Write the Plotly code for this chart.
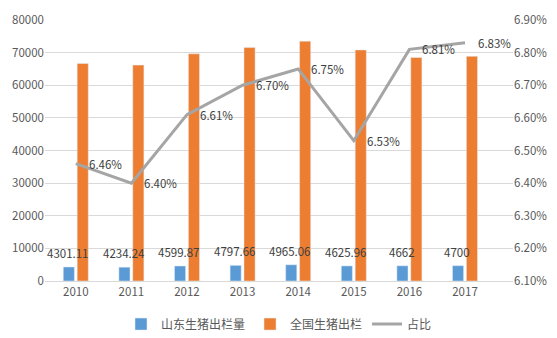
import plotly.graph_objects as go

years = ["2010", "2011", "2012", "2013", "2014", "2015", "2016", "2017"]
shandong = [4301.11, 4234.24, 4599.87, 4797.66, 4965.06, 4625.96, 4662, 4700]
national = [66686, 66170, 69628, 71557, 73510, 70825, 68502, 68861]
ratio = [6.46, 6.40, 6.61, 6.70, 6.75, 6.53, 6.81, 6.83]
shandong_labels = ["4301.11", "4234.24", "4599.87", "4797.66", "4965.06", "4625.96", "4662", "4700"]
ratio_labels = [f"{v:.2f}%" for v in ratio]

FONT = "Noto Sans CJK SC, Microsoft YaHei, sans-serif"
TXT = "#404040"

fig = go.Figure()
fig.add_trace(go.Bar(
    x=years, y=shandong, name="山东生猪出栏量",
    marker_color="#5b9bd5",
))
fig.add_trace(go.Bar(
    x=years, y=national, name="全国生猪出栏",
    marker_color="#ed7d31",
))
fig.add_trace(go.Scatter(
    x=years, y=ratio, name="占比", yaxis="y2",
    mode="lines",
    line=dict(color="#a5a5a5", width=3),
    cliponaxis=False,
))

# bar labels for 山东 series (drawn on top of the orange bars, as in the reference)
for i, (v, lab) in enumerate(zip(shandong, shandong_labels)):
    fig.add_annotation(x=i - 0.14, y=v, xref="x", yref="y", text=lab, showarrow=False,
                       xanchor="center", yanchor="bottom", yshift=4,
                       font=dict(size=11.5, color=TXT, family=FONT))

for i, (v, lab) in enumerate(zip(ratio, ratio_labels)):
    fig.add_annotation(x=i, y=v, xref="x", yref="y2", text=lab, showarrow=False,
                       xanchor="left", yanchor="middle", xshift=11,
                       font=dict(size=11.5, color=TXT, family=FONT))

fig.update_layout(
    width=557, height=338,
    margin=dict(l=45, r=44, t=20, b=57, autoexpand=False),
    paper_bgcolor="white", plot_bgcolor="white",
    font=dict(family=FONT, size=11, color="#595959"),
    barmode="group", bargap=0.5, bargroupgap=0.2,
    showlegend=True,
    legend=dict(orientation="h", x=0.5, xanchor="center", y=-0.165, yanchor="middle",
                font=dict(size=12, color="#595959"), itemwidth=30, tracegroupgap=0),
    xaxis=dict(type="category", showgrid=False, showline=True, linecolor="#d9d9d9", linewidth=1,
               ticks="", tickfont=dict(size=11.5, color="#595959"), automargin=False),
    yaxis=dict(range=[0, 80000], dtick=10000, showgrid=True, gridcolor="#d9d9d9",
               zeroline=False, ticks="", tickfont=dict(size=11.5, color="#595959"),
               tickformat="d", automargin=False),
    yaxis2=dict(range=[6.1, 6.9], dtick=0.1, overlaying="y", side="right",
                showgrid=False, zeroline=False, ticksuffix="%", tickformat=".2f",
                tickfont=dict(size=11.5, color="#595959"), automargin=False),
)

fig.write_html("out.html")
